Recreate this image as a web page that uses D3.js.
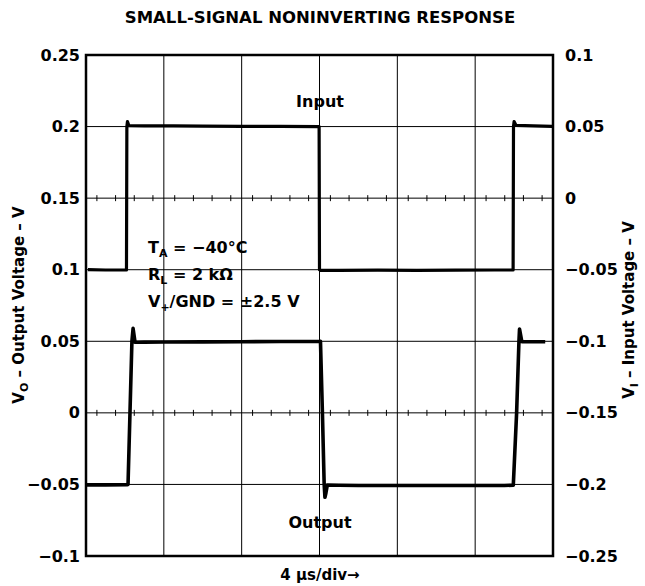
<!DOCTYPE html>
<html>
<head>
<meta charset="utf-8">
<script src="https://cdn.jsdelivr.net/npm/d3@7"></script>
<style>
  body { margin: 0; background: #fff; }
  svg { display: block; }
  text { font-family: "DejaVu Sans", sans-serif; font-weight: bold; fill: #000; }
</style>
</head>
<body>
<div id="chart"></div>
<script>
// time axis, in microseconds (4 us/div, 6 divisions)
const divisions = [0, 4, 8, 12, 16, 20, 24];

const leftTicks = [0.25, 0.2, 0.15, 0.1, 0.05, 0, -0.05, -0.1];
const leftLabels = ["0.25", "0.2", "0.15", "0.1", "0.05", "0", "−0.05", "−0.1"];
const rightTicks = [0.1, 0.05, 0, -0.05, -0.1, -0.15, -0.2, -0.25];
const rightLabels = ["0.1", "0.05", "0", "−0.05", "−0.1", "−0.15", "−0.2", "−0.25"];

// input trace, read against the right axis (V)
const inputT = [0.1, 1.0, 2.08, 2.1, 2.13, 2.2, 3.0, 4.5, 6.0, 8.0, 10.0, 11.98, 12.0, 12.05, 13.0, 15.0, 17.0, 19.0, 21.0, 21.95, 21.97, 22.0, 22.1, 23.0, 23.95];
const inputV = [-0.05, -0.0502, -0.0502, 0.05, 0.0535, 0.0507, 0.0505, 0.0505, 0.0503, 0.0502, 0.0501, 0.05, -0.05, -0.0505, -0.0505, -0.0503, -0.0504, -0.0503, -0.0502, -0.0502, 0.05, 0.0535, 0.0508, 0.0505, 0.0502];

// output trace, read against the left axis (V)
const outT = [0.05, 1.0, 2.1, 2.16, 2.26, 2.36, 2.42, 2.52, 3.0, 4.0, 6.0, 8.0, 10.0, 12.0, 12.05, 12.15, 12.24, 12.28, 12.33, 12.4, 13.0, 14.0, 16.0, 18.0, 20.0, 21.5, 21.96, 22.13, 22.25, 22.28, 22.4, 23.0, 23.6];
const outV = [-0.0503, -0.0503, -0.0502, -0.05, 0.0, 0.05, 0.059, 0.0493, 0.0494, 0.0495, 0.0496, 0.0497, 0.0498, 0.0499, 0.05, 0.0, -0.05, -0.059, -0.056, -0.0505, -0.0506, -0.0507, -0.0508, -0.0508, -0.0508, -0.0508, -0.0505, 0.0, 0.05, 0.0585, 0.0497, 0.0497, 0.0497];

const W = 645, H = 586;
const plot = {left: 86, right: 553, top: 55, bottom: 556};

const svg = d3.select("#chart").append("svg")
    .attr("width", W)
    .attr("height", H);

const x = d3.scaleLinear().domain([0, 24]).range([plot.left, plot.right]);
const yL = d3.scaleLinear().domain([-0.1, 0.25]).range([plot.bottom, plot.top]);
const yR = d3.scaleLinear().domain([-0.25, 0.1]).range([plot.bottom, plot.top]);

// graticule
svg.append("g")
  .selectAll("line")
  .data(divisions.slice(1, -1))
  .join("line")
    .attr("x1", d => x(d)).attr("x2", d => x(d))
    .attr("y1", plot.top).attr("y2", plot.bottom)
    .attr("stroke", "#000").attr("stroke-width", 1);

svg.append("g")
  .selectAll("line")
  .data(leftTicks.slice(1, -1))
  .join("line")
    .attr("x1", plot.left).attr("x2", plot.right)
    .attr("y1", d => yL(d)).attr("y2", d => yL(d))
    .attr("stroke", "#000").attr("stroke-width", 1);

// small tick marks on the two centre lines
const minor = [];
divisions.slice(0, -1).forEach(d => [0.14, 0.38, 0.62, 0.86].forEach(f => minor.push(d + f * 4)));
[0.15, 0].forEach(level => {
  svg.append("g")
    .selectAll("line")
    .data(minor)
    .join("line")
      .attr("x1", d => x(d)).attr("x2", d => x(d))
      .attr("y1", yL(level) - 3).attr("y2", yL(level) + 3)
      .attr("stroke", "#000").attr("stroke-width", 1);
});

// frame
svg.append("rect")
    .attr("x", plot.left).attr("y", plot.top)
    .attr("width", plot.right - plot.left)
    .attr("height", plot.bottom - plot.top)
    .attr("fill", "none")
    .attr("stroke", "#000")
    .attr("stroke-width", 2.5);

// axes
const axL = svg.append("g")
    .attr("transform", `translate(${plot.left},0)`)
    .call(d3.axisLeft(yL).tickValues(leftTicks).tickSize(0).tickPadding(6)
      .tickFormat((d, i) => leftLabels[i]));
const axR = svg.append("g")
    .attr("transform", `translate(${plot.right},0)`)
    .call(d3.axisRight(yR).tickValues(rightTicks).tickSize(0).tickPadding(12)
      .tickFormat((d, i) => rightLabels[i]));
[axL, axR].forEach(a => {
  a.select(".domain").remove();
  a.selectAll("text")
    .attr("font-family", "DejaVu Sans, sans-serif")
    .attr("font-weight", "bold")
    .attr("font-size", 16)
    .attr("fill", "#000");
});

// traces
const lineIn = d3.line().x((d, i) => x(inputT[i])).y(d => yR(d));
const lineOut = d3.line().x((d, i) => x(outT[i])).y(d => yL(d));

svg.append("path")
    .attr("d", lineIn(inputV))
    .attr("fill", "none").attr("stroke", "#000")
    .attr("stroke-width", 3.2).attr("stroke-linejoin", "round");
svg.append("path")
    .attr("d", lineOut(outV))
    .attr("fill", "none").attr("stroke", "#000")
    .attr("stroke-width", 3.6).attr("stroke-linejoin", "round");

// title
svg.append("text")
    .attr("x", 320).attr("y", 23)
    .attr("text-anchor", "middle")
    .attr("font-size", 16.5)
    .text("SMALL-SIGNAL NONINVERTING RESPONSE");

svg.append("text")
    .attr("x", 320).attr("y", 107)
    .attr("text-anchor", "middle")
    .attr("font-size", 16)
    .text("Input");
svg.append("text")
    .attr("x", 320).attr("y", 528)
    .attr("text-anchor", "middle")
    .attr("font-size", 16)
    .text("Output");

// x label
svg.append("text")
    .attr("x", 320).attr("y", 580)
    .attr("text-anchor", "middle")
    .attr("font-size", 15)
    .text("4 µs/div→");

// conditions
const notes = svg.append("g").attr("font-size", 16);
const t1 = notes.append("text").attr("x", 148).attr("y", 253);
t1.append("tspan").text("T");
t1.append("tspan").attr("font-size", 11).attr("dy", 4).text("A");
t1.append("tspan").attr("dy", -4).text(" = −40°C");
const t2 = notes.append("text").attr("x", 148).attr("y", 280);
t2.append("tspan").text("R");
t2.append("tspan").attr("font-size", 11).attr("dy", 4).text("L");
t2.append("tspan").attr("dy", -4).text(" = 2 kΩ");
const t3 = notes.append("text").attr("x", 148).attr("y", 307);
t3.append("tspan").text("V");
t3.append("tspan").attr("font-size", 11).attr("dy", 4).text("+");
t3.append("tspan").attr("dy", -4).text("/GND = ±2.5 V");

// axis titles
const yt1 = svg.append("text")
    .attr("transform", "translate(24,305) rotate(-90)")
    .attr("text-anchor", "middle")
    .attr("font-size", 15);
yt1.append("tspan").text("V");
yt1.append("tspan").attr("font-size", 11).attr("dy", 4).text("O");
yt1.append("tspan").attr("dy", -4).text(" – Output Voltage – V");

const yt2 = svg.append("text")
    .attr("transform", "translate(634,310) rotate(-90)")
    .attr("text-anchor", "middle")
    .attr("font-size", 15);
yt2.append("tspan").text("V");
yt2.append("tspan").attr("font-size", 11).attr("dy", 4).text("I");
yt2.append("tspan").attr("dy", -4).text(" – Input Voltage – V");
</script>
</body>
</html>
